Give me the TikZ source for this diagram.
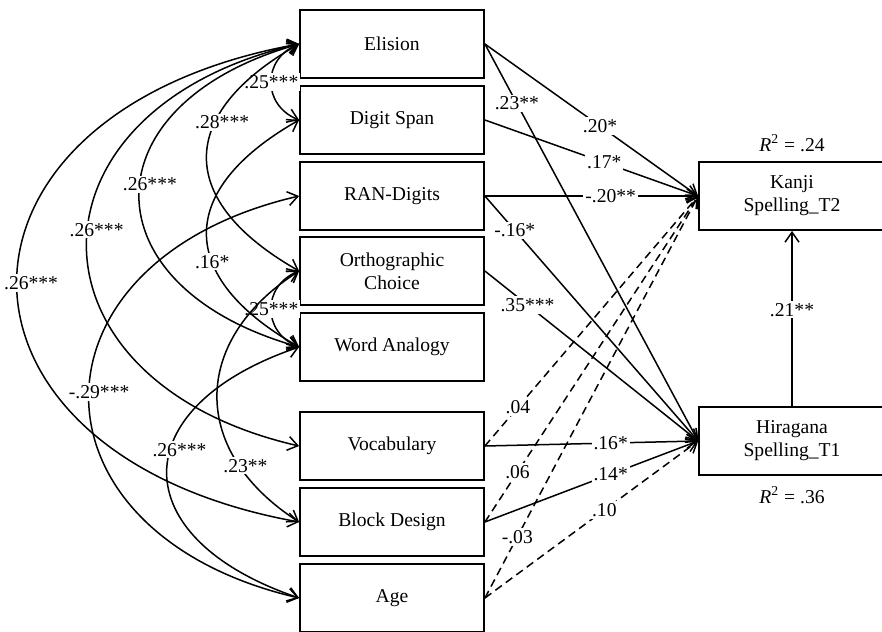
\documentclass[tikz,border=0pt]{standalone}
\usepackage{fontspec}
\setmainfont{Liberation Serif}
\usetikzlibrary{arrows.meta}
\tikzset{
  block/.style = {draw, line width=0.9pt, rectangle, minimum width=92pt,
                  minimum height=34pt, align=center, inner sep=2pt},
  coef/.style  = {fill=white, inner sep=1pt},
  sig/.style   = {-{Straight Barb[length=5pt,width=7pt]}, line width=0.75pt},
  nsig/.style  = {sig, dash pattern=on 4pt off 2.5pt},
  cov/.style   = {{Straight Barb[length=5pt,width=7pt]}-{Straight Barb[length=5pt,width=7pt]},
                  line width=0.75pt},
}

\begin{document}
\begin{tikzpicture}[x=0.5pt,y=-0.5pt,font=\fontsize{9.8}{11.5}\selectfont]
\useasboundingbox (0,0) rectangle (882,631);
\clip (0,0) rectangle (882,631);
% ---- predictors ----
\node[block] (el)  at (392,44)  {Elision};
\node[block] (ds)  at (392,120) {Digit Span};
\node[block] (ran) at (392,196) {RAN-Digits};
\node[block] (oc)  at (392,271) {Orthographic\\Choice};
\node[block] (wa)  at (392,347) {Word Analogy};
\node[block] (voc) at (392,446) {Vocabulary};
\node[block] (bd)  at (392,522) {Block Design};
\node[block] (age) at (392,598) {Age};
% ---- outcomes (boxes run past the right edge) ----
\node[block,minimum width=97pt] (kanji) at (796,196) {};
\node[block,minimum width=97pt] (hira)  at (796,441) {};
\node[align=center] (kanjitxt) at (792,196) {Kanji\\Spelling\_T2};
\node[align=center] (hiratxt)  at (792,441) {Hiragana\\Spelling\_T1};
\node (r2k) at (792,143) {\textit{R}\textsuperscript{2} = .24};
\node (r2h) at (792,495) {\textit{R}\textsuperscript{2} = .36};
% paths to Kanji / Hiragana
\draw[sig] (el.east) -- node[coef,pos=0.54]{.20*} (kanji.west);
\draw[sig] (el.east) -- node[coef,pos=0.15]{.23**} (hira.west);
\draw[sig] (ds.east) -- node[coef,pos=0.56]{.17*} (kanji.west);
\draw[sig] (ran.east) -- node[coef,pos=0.59]{-.20**} (kanji.west);
\draw[sig] (ran.east) -- node[coef,pos=0.14]{-.16*} (hira.west);
\draw[sig] (oc.east) -- node[coef,pos=0.2]{.35***} (hira.west);
\draw[sig] (voc.east) -- node[coef,pos=0.59]{.16*} (hira.west);
\draw[sig] (bd.east) -- node[coef,pos=0.59]{.14*} (hira.west);
% non-significant paths
\draw[nsig] (voc.east) -- node[coef,pos=0.155]{.04} (kanji.west);
\draw[nsig] (bd.east) -- node[coef,pos=0.153]{.06} (kanji.west);
\draw[nsig] (age.east) -- node[coef,pos=0.152]{-.03} (kanji.west);
\draw[nsig] (age.east) -- node[coef,pos=0.56]{.10} (hira.west);
\draw[sig] (hira.north -| kanjitxt) -- node[coef,pos=0.55]{.21**} (kanji.south -| kanjitxt);
% ---- correlations between predictors ----
\draw[cov] (el.west) .. controls +(-37,15) and +(-37,-15) .. node[coef]{.25***} (ds.west);
\draw[cov] (oc.west) .. controls +(-37,15) and +(-37,-15) .. node[coef]{.25***} (wa.west);
\draw[cov] (el.west) .. controls +(-123,70) and +(-123,-70) .. node[coef,pos=0.35,xshift=3.5pt]{.28***} (oc.west);
\draw[cov] (ds.west) .. controls +(-123,70) and +(-123,-70) .. node[coef,pos=0.62]{.16*} (wa.west);
\draw[cov] (el.west) .. controls +(-213,60) and +(-213,-60) .. node[coef,pos=0.47,xshift=5pt]{.26***} (wa.west);
\draw[cov] (el.west) .. controls +(-283,65) and +(-283,-65) .. node[coef,pos=0.47,xshift=4.5pt]{.26***} (voc.west);
\draw[cov] (el.west) .. controls +(-376,68) and +(-376,-68) .. node[coef,pos=0.5,xshift=7pt]{.26***} (bd.west);
\draw[cov] (ran.west) .. controls +(-280,65) and +(-280,-65) .. node[coef,pos=0.49,xshift=5pt]{-.29***} (age.west);
\draw[cov] (wa.west) .. controls +(-176,60) and +(-176,-60) .. node[coef,pos=0.42,xshift=4.5pt]{.26***} (age.west);
\draw[cov] (oc.west) .. controls +(-109,70) and +(-109,-70) .. node[coef,pos=0.76,xshift=3pt]{.23**} (bd.west);
\end{tikzpicture}
\end{document}
